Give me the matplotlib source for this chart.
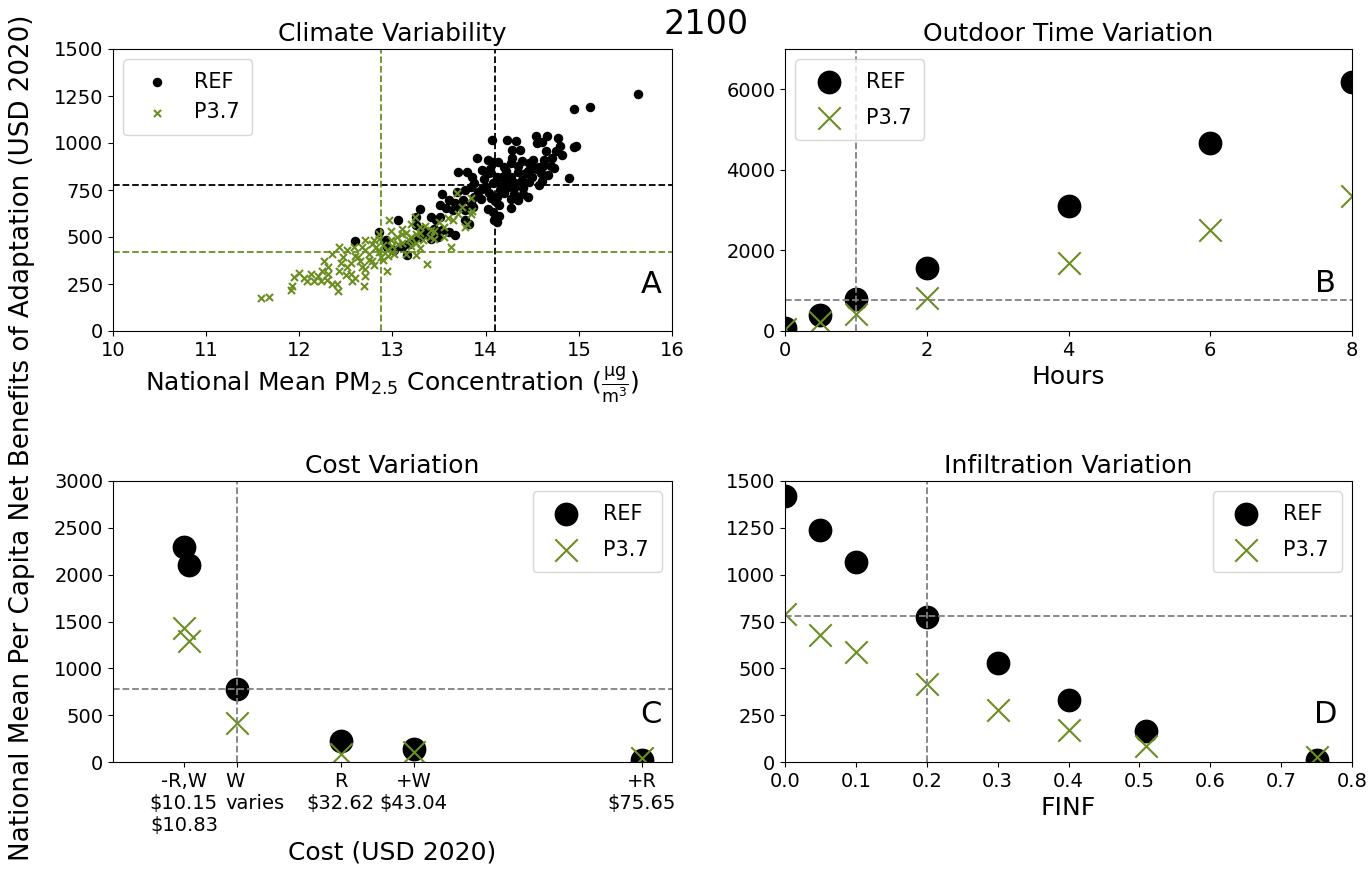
import matplotlib
matplotlib.use("Agg")
import matplotlib.pyplot as plt
from matplotlib.transforms import ScaledTranslation

green = "olivedrab"
base_ref = 777
base_p37 = 418

# Panel A: climate variability scatter
clim_ref_x = [15.64, 14.95, 15.12, 14.95, 14.97, 14.89, 14.82, 14.78, 14.80, 14.07,
              14.23, 14.33, 14.54, 14.66, 14.61, 14.55, 14.28, 14.37, 13.91, 14.03,
              14.13, 14.20, 14.27, 14.39, 14.47, 14.51, 14.57, 14.63, 14.71, 14.73,
              14.67, 14.59, 14.51, 14.43, 14.35, 14.27, 14.20, 14.12, 14.04, 13.96,
              14.00, 14.08, 14.16, 14.24, 14.31, 14.39, 14.47, 14.57, 14.45, 14.35,
              14.27, 14.20, 14.12, 14.04, 13.96, 13.88, 13.84, 13.78, 13.70, 13.80,
              13.69, 13.76, 13.84, 13.88, 13.67, 13.61, 13.53, 13.51, 13.57, 13.65,
              13.73, 13.78, 13.86, 14.06, 14.14, 14.27, 14.08, 14.09, 13.29, 13.41,
              13.47, 13.51, 13.25, 13.25, 13.06, 13.45, 13.53, 13.61, 13.67, 13.49,
              13.41, 13.78, 13.82, 12.86, 12.93, 12.60, 12.94, 13.02, 13.10, 13.18,
              13.16, 13.22, 13.29, 13.33, 13.37, 14.15, 14.20, 14.10, 14.25, 14.30,
              14.18, 14.22, 14.05, 13.98, 14.35, 14.40, 14.45, 14.50, 14.55, 14.60,
              14.30, 14.10, 14.02, 13.95, 14.40, 14.62, 14.70, 14.75, 14.65, 13.92,
              14.08, 14.28, 13.85, 14.12, 14.14]
clim_ref_y = [1263, 1182, 1189, 979, 982, 813, 938, 1027, 982, 1014,
              1014, 1009, 1036, 1039, 1004, 1000, 964, 964, 922, 907,
              897, 870, 893, 902, 893, 866, 875, 911, 920, 866,
              830, 843, 911, 839, 848, 821, 804, 821, 839, 857,
              768, 786, 768, 768, 786, 804, 795, 775, 714, 696,
              700, 732, 714, 732, 754, 786, 768, 750, 845, 845,
              741, 696, 679, 714, 679, 696, 727, 670, 652, 643,
              661, 643, 661, 705, 670, 652, 634, 589, 648, 607,
              589, 607, 607, 563, 589, 545, 536, 527, 509, 500,
              491, 589, 571, 527, 482, 477, 446, 432, 446, 464,
              402, 482, 500, 536, 518, 750, 740, 790, 800, 760,
              820, 850, 860, 810, 880, 760, 850, 820, 860, 800,
              730, 690, 650, 700, 730, 880, 880, 960, 960, 740,
              900, 920, 820, 580, 610]
clim_p37_x = [11.59, 11.67, 11.91, 11.92, 11.94, 12.00, 12.12, 12.16, 12.23, 12.24,
              12.31, 12.35, 12.41, 12.35, 12.43, 12.47, 12.51, 12.55, 12.57, 12.67,
              12.69, 12.71, 12.63, 12.75, 12.78, 12.82, 12.80, 12.86, 12.88, 12.94,
              12.96, 12.98, 13.02, 13.06, 13.10, 13.14, 13.18, 13.20, 13.24, 13.25,
              13.29, 13.33, 13.25, 13.37, 13.41, 13.45, 13.55, 13.63, 13.65, 13.69,
              13.78, 13.84, 13.84, 13.80, 12.67, 12.59, 12.71, 12.78, 12.94, 12.51,
              12.43, 12.31, 12.27, 12.08, 12.60, 12.70, 12.75, 12.85, 12.90, 12.95,
              13.00, 13.05, 13.10, 13.15, 13.20, 13.25, 13.30, 13.35, 13.40, 12.55,
              12.65, 12.80, 12.90, 13.00, 12.45, 12.50, 12.60, 12.70, 12.85, 13.10,
              13.20, 13.30, 12.98, 13.45, 13.50, 13.60, 13.70, 13.75, 13.85, 13.55,
              12.20, 12.05, 12.40, 12.30]
clim_p37_y = [173, 179, 218, 241, 286, 309, 304, 268, 264, 318,
              339, 411, 214, 250, 446, 393, 339, 304, 268, 339,
              241, 295, 393, 411, 375, 446, 482, 518, 393, 321,
              589, 482, 411, 464, 518, 411, 482, 571, 607, 518,
              554, 482, 402, 354, 536, 491, 554, 446, 589, 732,
              554, 705, 625, 571, 446, 446, 482, 464, 429, 429,
              321, 304, 375, 268, 400, 430, 380, 420, 460, 400,
              450, 500, 470, 520, 500, 470, 520, 560, 500, 360,
              370, 350, 380, 420, 360, 300, 280, 330, 490, 540,
              450, 440, 530, 530, 580, 600, 620, 660, 640, 500,
              290, 280, 250, 270]
clim_ref_mean = (14.10, 775)
clim_p37_mean = (12.88, 418)

# Panel B: outdoor time
hours = [0, 0.5, 1, 2, 4, 6, 8]
hours_ref = [80, 400, 790, 1560, 3100, 4656, 6191]
hours_p37 = [40, 224, 431, 830, 1676, 2506, 3353]

# Panel C: cost
cost_x = [10.15, 10.83, 17.7, 32.62, 43.04, 75.65]
cost_ref = [2295, 2103, 779, 225, 143, 18]
cost_p37 = [1427, 1295, 418, 90, 105, 45]
cost_ticks = [10.15, 17.7, 32.62, 43.04, 75.65]
cost_labels = ["-R,W\n\\$10.15\n\\$10.83", "W\nvaries", "R\n\\$32.62",
               "+W\n\\$43.04", "+R\n\\$75.65"]

# Panel D: infiltration
finf = [0, 0.05, 0.1, 0.2, 0.3, 0.4, 0.51, 0.75]
finf_ref = [1418, 1236, 1069, 775, 527, 332, 168, 12]
finf_p37 = [789, 679, 585, 417, 280, 170, 85, 27]

plt.rcParams["xtick.labelsize"] = 14
plt.rcParams["ytick.labelsize"] = 14

fs_title = 18
fs_label = 18
fs_leg = 15
fs_letter = 22

fig = plt.figure(figsize=(13.71, 8.76), dpi=100)
W, H = 1371, 876


def box(l, r, t, b):
    return [l / W, 1 - b / H, (r - l) / W, (b - t) / H]


axA = fig.add_axes(box(113, 672, 49, 331))
axB = fig.add_axes(box(785, 1352, 49, 331))
axC = fig.add_axes(box(113, 672, 481, 762))
axD = fig.add_axes(box(785, 1352, 481, 762))

# A
axA.scatter(clim_ref_x, clim_ref_y, color="black", s=34, label="REF")
axA.scatter(clim_p37_x, clim_p37_y, color=green, marker="x", s=26, linewidths=1.5, label="P3.7")
axA.axvline(clim_ref_mean[0], color="black", ls="--", lw=1.3)
axA.axhline(clim_ref_mean[1], color="black", ls="--", lw=1.3)
axA.axvline(clim_p37_mean[0], color=green, ls="--", lw=1.3)
axA.axhline(clim_p37_mean[1], color=green, ls="--", lw=1.3)
axA.set_xlim(10, 16)
axA.set_ylim(0, 1500)
axA.set_yticks(range(0, 1501, 250))
axA.set_title("Climate Variability", fontsize=fs_title)
axA.set_xlabel(r"National Mean PM$_{2.5}$ Concentration ($\frac{\mathrm{\mu g}}{\mathrm{m^3}}$)", fontsize=fs_label)
axA.legend(loc="upper left", fontsize=fs_leg, borderpad=0.6)
axA.text(0.962, 0.165, "A", transform=axA.transAxes, fontsize=fs_letter, ha="center", va="center")

big = 260
leg_kw = dict(fontsize=fs_leg, borderpad=0.6, labelspacing=0.75)
# B
axB.scatter(hours, hours_ref, color="black", s=big, label="REF")
axB.scatter(hours, hours_p37, color=green, marker="x", s=big, linewidths=1.5, label="P3.7")
axB.axvline(1, color="gray", ls="--", lw=1.3)
axB.axhline(base_ref, color="gray", ls="--", lw=1.3)
axB.set_xlim(0, 8)
axB.set_ylim(0, 7000)
axB.set_yticks([0, 2000, 4000, 6000])
axB.set_xticks([0, 2, 4, 6, 8])
axB.set_title("Outdoor Time Variation", fontsize=fs_title)
axB.set_xlabel("Hours", fontsize=fs_label)
axB.legend(loc="upper left", **leg_kw)
axB.text(0.954, 0.17, "B", transform=axB.transAxes, fontsize=fs_letter, ha="center", va="center")

# C
axC.scatter(cost_x, cost_ref, color="black", s=big, label="REF")
axC.scatter(cost_x, cost_p37, color=green, marker="x", s=big, linewidths=1.5, label="P3.7")
axC.axvline(cost_x[2], color="gray", ls="--", lw=1.3)
axC.axhline(base_ref, color="gray", ls="--", lw=1.3)
axC.set_xlim(0, 80)
axC.set_ylim(0, 3000)
axC.set_yticks(range(0, 3001, 500))
axC.set_xticks(cost_ticks)
axC.set_xticklabels(cost_labels)
# the "W / varies" label sits left-aligned with "W" centred on its tick
wlab = axC.get_xticklabels()[1]
wlab.set_horizontalalignment("left")
wlab.set_multialignment("left")
wlab.set_transform(wlab.get_transform() + ScaledTranslation(-0.11, 0, fig.dpi_scale_trans))
axC.set_title("Cost Variation", fontsize=fs_title)
axC.set_xlabel("Cost (USD 2020)", fontsize=fs_label)
axC.legend(loc="upper right", **leg_kw)
axC.text(0.962, 0.17, "C", transform=axC.transAxes, fontsize=fs_letter, ha="center", va="center")

# D
axD.scatter(finf, finf_ref, color="black", s=big, label="REF")
axD.scatter(finf, finf_p37, color=green, marker="x", s=big, linewidths=1.5, label="P3.7")
axD.axvline(0.2, color="gray", ls="--", lw=1.3)
axD.axhline(base_ref, color="gray", ls="--", lw=1.3)
axD.set_xlim(0, 0.8)
axD.set_ylim(0, 1500)
axD.set_yticks(range(0, 1501, 250))
axD.set_xticks([i / 10 for i in range(9)])
axD.set_title("Infiltration Variation", fontsize=fs_title)
axD.set_xlabel("FINF", fontsize=fs_label)
axD.legend(loc="upper right", **leg_kw)
axD.text(0.954, 0.17, "D", transform=axD.transAxes, fontsize=fs_letter, ha="center", va="center")

fig.text(706 / W, 1 - 25 / H, "2100", fontsize=24, ha="center", va="center")
fig.text(22 / W, 0.5, "National Mean Per Capita Net Benefits of Adaptation (USD 2020)",
         rotation=90, fontsize=18.8, ha="center", va="center")

fig.savefig("out.png", dpi=100)
